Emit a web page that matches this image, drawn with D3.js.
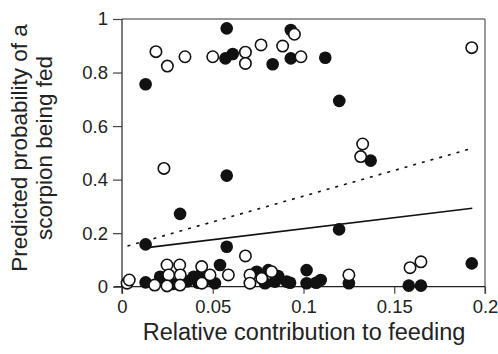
<!DOCTYPE html>
<html>
<head>
<meta charset="utf-8">
<script src="https://cdn.jsdelivr.net/npm/d3@7"></script>
<style>
  body { margin: 0; background: #fff; }
  svg { display: block; }
  text { font-family: "Liberation Sans", Arial, sans-serif; fill: #222; }
</style>
</head>
<body>
<div id="w"></div>
<script>
// filled circles
var filledX = [0.013, 0.0577, 0.057, 0.061, 0.083, 0.093, 0.093, 0.112, 0.1197, 0.0577,
  0.032, 0.013, 0.0577, 0.137, 0.1196, 0.1927, 0.158, 0.1647, 0.125, 0.1017,
  0.1017, 0.107, 0.1095, 0.0926, 0.013, 0.021, 0.023, 0.028, 0.0395, 0.044,
  0.042, 0.046, 0.054, 0.0512, 0.0742, 0.0806, 0.0843, 0.0788, 0.0907, 0.086, 0.036]
var filledY = [0.756, 0.965, 0.853, 0.869, 0.831, 0.959, 0.853, 0.855, 0.694, 0.415,
  0.272, 0.158, 0.149, 0.471, 0.214, 0.087, 0.004, 0.004, 0.013, 0.062,
  0.013, 0.015, 0.025, 0.015, 0.016, 0.037, 0.02, 0.01, 0.037, 0.05,
  0.015, 0.025, 0.081, 0.013, 0.056, 0.062, 0.019, 0.013, 0.019, 0.04, 0.02]
// open circles
var openX = [0.0187, 0.025, 0.0347, 0.050, 0.068, 0.068, 0.0766, 0.0885, 0.095, 0.0986,
  0.1927, 0.1326, 0.1315, 0.0231, 0.068, 0.1587, 0.1647, 0.125, 0.0028, 0.004,
  0.018, 0.0248, 0.0318, 0.0257, 0.0321, 0.0248, 0.032, 0.044, 0.0439, 0.0485,
  0.0586, 0.0705, 0.0705, 0.077, 0.0824]
var openY = [0.878, 0.824, 0.859, 0.859, 0.876, 0.834, 0.903, 0.899, 0.943, 0.859,
  0.893, 0.533, 0.486, 0.442, 0.115, 0.071, 0.093, 0.044, 0.013, 0.025,
  0.006, 0.081, 0.081, 0.044, 0.044, 0.003, 0.006, 0.013, 0.075, 0.044,
  0.044, 0.044, 0.013, 0.031, 0.056]
// fitted lines [x0, x1], [y0, y1]
var solidX = [0.0127, 0.193], solidY = [0.145, 0.293]
var dottedX = [0.003, 0.193], dottedY = [0.152, 0.517]
var xTicks = [0, 0.05, 0.1, 0.15, 0.2]
var yTicks = [0, 0.2, 0.4, 0.6, 0.8, 1]

var W = 498, H = 354
var L = 122, R = 485, T = 19, B = 286.7

var svg = d3.select("#w").append("svg")
  .attr("width", W)
  .attr("height", H)

var x = d3.scaleLinear().domain([0, 0.2]).range([L, R])
var y = d3.scaleLinear().domain([0, 1]).range([B, T])

// frame top / right
svg.append("line").attr("x1", L).attr("x2", R).attr("y1", T).attr("y2", T)
  .attr("stroke", "#333").attr("stroke-width", 1.2)
svg.append("line").attr("x1", R).attr("x2", R).attr("y1", T).attr("y2", B + 7)
  .attr("stroke", "#777").attr("stroke-width", 1.5)

var xAxis = svg.append("g").attr("transform", "translate(0," + B + ")")
  .call(d3.axisBottom(x).tickValues(xTicks).tickSize(7).tickSizeOuter(0)
    .tickFormat(function(d) { return d3.format("")(d) }))
xAxis.select(".domain").attr("d", "M" + (L - 8) + ",0H" + R)
var yAxis = svg.append("g").attr("transform", "translate(" + L + ",0)")
  .call(d3.axisLeft(y).tickValues(yTicks).tickSize(9).tickSizeOuter(0)
    .tickFormat(function(d) { return d3.format("")(d) }))
yAxis.select(".domain").attr("d", "M0," + T + "V" + (B + 7))

svg.selectAll(".domain").attr("stroke", "#222").attr("stroke-width", 1.2)
svg.selectAll(".tick line").attr("stroke", "#444").attr("stroke-width", 1.2)
svg.selectAll(".tick text").attr("font-size", 18.5)
  .attr("font-family", "Liberation Sans, Arial, sans-serif").attr("fill", "#222")
xAxis.selectAll(".tick text").attr("y", 13).attr("dy", "0.71em")
yAxis.selectAll(".tick text").attr("x", -14)

// fitted lines
var line = d3.line().x(function(d) { return x(d[0]) }).y(function(d) { return y(d[1]) })
svg.append("path").datum(d3.zip(dottedX, dottedY)).attr("d", line)
  .attr("fill", "none").attr("stroke", "#111").attr("stroke-width", 1.6)
  .attr("stroke-dasharray", "3,6")
svg.append("path").datum(d3.zip(solidX, solidY)).attr("d", line)
  .attr("fill", "none").attr("stroke", "#111").attr("stroke-width", 1.6)

// points
svg.append("g").selectAll("circle").data(d3.zip(filledX, filledY)).enter()
  .append("circle")
  .attr("cx", function(d) { return x(d[0]) })
  .attr("cy", function(d) { return y(d[1]) })
  .attr("r", 6.3)
  .attr("fill", "#111")
svg.append("g").selectAll("circle").data(d3.zip(openX, openY)).enter()
  .append("circle")
  .attr("cx", function(d) { return x(d[0]) })
  .attr("cy", function(d) { return y(d[1]) })
  .attr("r", 5.7)
  .attr("fill", "#fff").attr("stroke", "#111").attr("stroke-width", 1.6)

// axis titles
svg.append("text").attr("x", 304).attr("y", 340)
  .attr("text-anchor", "middle").attr("font-size", 23.5)
  .text("Relative contribution to feeding")
var yl = svg.append("text").attr("transform", "translate(28,148) rotate(-90)")
  .attr("text-anchor", "middle").attr("font-size", 22.5)
yl.append("tspan").attr("x", 0).attr("dy", -1).text("Predicted probability of a")
yl.append("tspan").attr("x", 0).attr("dy", 25).text("scorpion being fed")
</script>
</body>
</html>
